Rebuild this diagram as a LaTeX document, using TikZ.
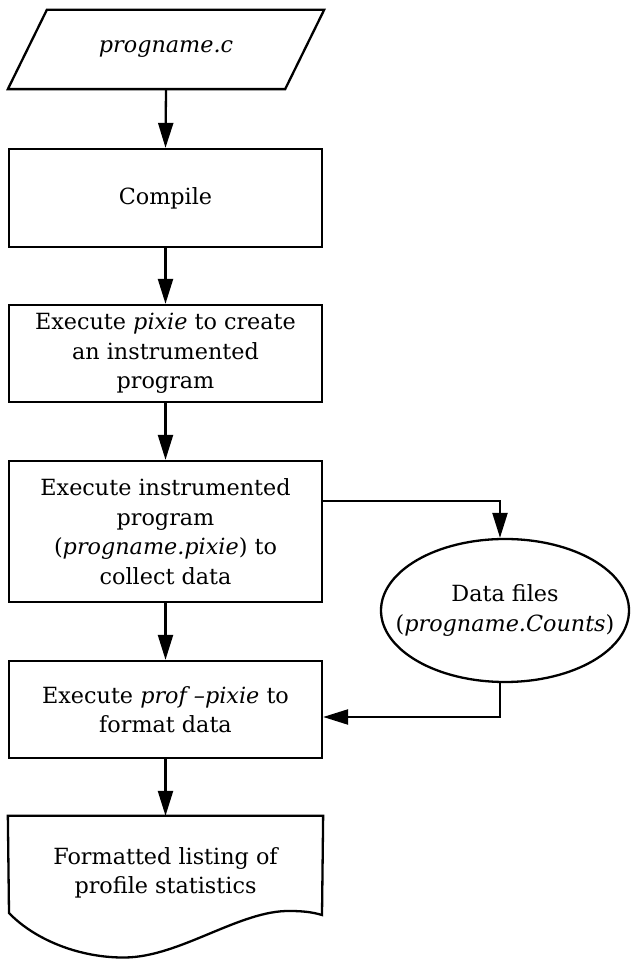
\documentclass[tikz,border=0pt]{standalone}
\usepackage{fontspec}
\setmainfont{DejaVu Serif}
\usetikzlibrary{arrows.meta,shapes.geometric,calc}

\begin{document}
\begin{tikzpicture}[x=1pt,y=1pt,
  line width=2.3pt,
  font=\fontsize{22.3}{29.5}\selectfont,
  flowarrow/.style={-{Triangle[length=25pt,width=15pt]}},
  procbox/.style={draw, rectangle, minimum width=313pt, align=center, inner sep=2pt},
  textonly/.style={rectangle, minimum width=313pt, align=center, inner sep=2pt},
  datafile/.style={draw, ellipse, minimum width=248pt, minimum height=143pt, inner sep=0pt}]

  \useasboundingbox (0,0) rectangle (632,960);

  % input file: parallelogram drawn around a bare node
  \node[textonly, minimum width=314pt, minimum height=77pt] (src) at (166,910.5) {\itshape progname.c};
  \draw ([xshift=39pt]src.north west) -- (src.north east)
        -- ([xshift=-39pt]src.south east) -- (src.south west) -- cycle;

  \node[procbox, minimum height=98pt] (compile) at (165.5,762) {Compile};

  \node[procbox, minimum height=97pt] (pixie) at (165.5,606.5)
    {Execute \textit{pixie} to create\\an instrumented\\program};

  \node[procbox, minimum height=141pt] (inst) at (165.5,428.5)
    {Execute instrumented\\program\\(\textit{progname.pixie}) to\\collect data};

  \node[procbox, minimum height=97pt] (prof) at (165.5,250.5)
    {Execute \textit{prof –pixie} to\\format data};

  % data files: the ellipse keeps its own size, the text sits in its centre
  \node[datafile, label={[align=center, inner sep=0pt]center:{Data files\\(\textit{progname.Counts})}}]
    (data) at (505,349.5) {};

  % output listing: document symbol with a wavy lower edge
  \node[textonly, minimum height=112pt] (doc) at (165.5,87)
    {Formatted listing of\\profile statistics};
  \draw (doc.north east) -- (322,45)
        .. controls (312,48) and (302,49) .. (290,49)
        .. controls (240,50) and (180,3) .. (125,2.5)
        .. controls (80,2) and (35,20) .. (9,47)
        -- (doc.north west) -- cycle;

  % main flow
  \draw[flowarrow] (src.south) -- (compile.north);
  \draw[flowarrow] (compile.south) -- (pixie.north);
  \draw[flowarrow] (pixie.south) -- (inst.north);
  \draw[flowarrow] (inst.south) -- (prof.north);
  \draw[flowarrow] (prof.south) -- (doc.north);

  % side branch through the data files
  \draw[flowarrow] ([yshift=30.5pt]inst.east) -| ([xshift=-5pt]data.north);
  \draw[flowarrow] ([xshift=-5pt]data.south) |- ([yshift=-7.5pt]prof.east);
\end{tikzpicture}
\end{document}
